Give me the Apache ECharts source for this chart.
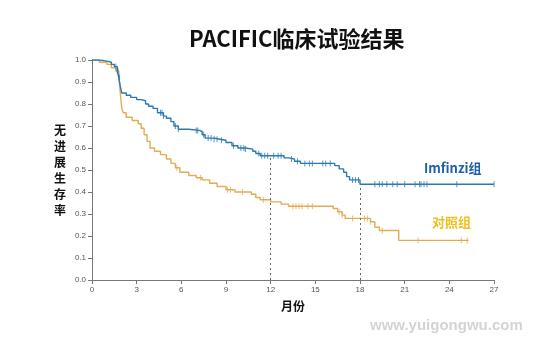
<!DOCTYPE html>
<html><head><meta charset="utf-8">
<script src="https://cdn.jsdelivr.net/npm/echarts@6/dist/echarts.min.js"></script>
<style>html,body{margin:0;padding:0;background:#fff}#c{width:555px;height:342px}</style>
</head><body><div id="c"></div>
<script>
// Kaplan-Meier step points: [month, survival]
var imfinziTimes = [0,0.5,1.0,1.3,1.5,1.7,1.8,1.9,2.0,2.3,2.6,3.0,3.3,3.6,3.8,4.1,4.4,4.8,5.0,5.3,5.5,5.8,6.5,7.2,7.4,7.6,8.2,8.6,9.0,9.4,9.8,10.3,10.8,11.0,11.3,12.9,13.2,13.6,14.0,16.3,16.6,16.9,17.1,17.3,18.0,27.0];
var imfinziSurv  = [1.0,0.995,0.99,0.98,0.97,0.95,0.92,0.88,0.85,0.84,0.83,0.82,0.815,0.80,0.79,0.78,0.76,0.745,0.735,0.72,0.70,0.685,0.68,0.675,0.66,0.645,0.64,0.635,0.625,0.61,0.60,0.595,0.585,0.575,0.565,0.555,0.55,0.54,0.53,0.52,0.505,0.49,0.47,0.455,0.435,0.435];
var controlTimes = [0,0.5,1.0,1.3,1.6,1.8,1.9,2.0,2.1,2.3,2.7,3.1,3.3,3.5,3.7,3.9,4.2,4.6,5.0,5.3,5.6,5.9,6.5,7.0,7.4,7.9,8.4,9.0,9.6,10.7,11.0,11.3,12.0,12.7,13.2,16.2,16.5,16.8,17.0,18.7,19.0,19.3,20.6,25.3];
var controlSurv  = [1.0,0.99,0.98,0.965,0.95,0.93,0.85,0.78,0.76,0.74,0.725,0.71,0.69,0.66,0.63,0.60,0.585,0.57,0.55,0.53,0.51,0.49,0.475,0.465,0.455,0.44,0.425,0.41,0.40,0.39,0.375,0.365,0.355,0.345,0.335,0.325,0.31,0.295,0.28,0.265,0.24,0.225,0.18,0.18];
// censoring times (months)
var imfinziCensor = [1.6,1.7,1.75,1.85,4.6,4.7,4.8,5.6,5.8,7.0,7.1,7.5,7.8,8.0,8.2,8.4,8.7,9.5,10.0,10.2,10.3,11.2,11.4,11.6,11.8,12.2,12.5,12.7,13.4,13.8,14.3,14.6,14.8,15.5,15.7,16.0,17.5,17.7,17.9,19.0,19.3,19.5,19.8,20.2,20.5,21.0,21.7,22.0,22.1,22.3,22.5,24.5,27.0];
var controlCensor = [5.7,7.3,9.1,9.3,10.1,11.5,13.5,13.7,13.9,14.1,14.5,14.8,16.6,16.8,17.5,18.3,18.5,18.7,19.5,21.9,24.8,25.2];
var xTicks = [0,3,6,9,12,15,18,21,24,27];
var landmarks = [12,18];
var seriesNames = ['Imfinzi组','对照组'];

function pairs(t,s){return t.map(function(v,i){return [v,s[i]];});}
function survAt(t,s,x){var v=s[0];for(var i=0;i<t.length;i++){if(t[i]<=x)v=s[i];}return v;}
function censorPts(ct,t,s){return ct.map(function(x){return [x,survAt(t,s,x)];});}

var blue='#2a7ab2', gold='#e3ac52';
var chart=echarts.init(document.getElementById('c'),null,{renderer:'canvas'});
chart.setOption({
  animation:false,
  backgroundColor:'#fff',
  title:{text:'PACIFIC临床试验结果',left:184,top:23,textStyle:{fontSize:22,fontWeight:'bold',color:'#111',fontFamily:'Noto Sans CJK SC'}},
  grid:{left:92,right:61,top:60,bottom:62},
  xAxis:{type:'value',min:0,max:27,interval:3,
    name:'月份',nameLocation:'middle',nameGap:20,
    nameTextStyle:{fontSize:12,fontWeight:'bold',color:'#111',fontFamily:'Noto Sans CJK SC'},
    axisLine:{lineStyle:{color:'#777'}},axisTick:{show:true,length:4,lineStyle:{color:'#777'}},
    axisLabel:{fontSize:8,color:'#555',margin:6},splitLine:{show:false}},
  yAxis:{type:'value',min:0,max:1,interval:0.1,
    name:'无\n进\n展\n生\n存\n率',nameLocation:'middle',nameGap:26,nameRotate:0,
    nameTextStyle:{fontSize:12,fontWeight:'bold',color:'#111',lineHeight:16,fontFamily:'Noto Sans CJK SC'},
    axisLine:{show:true,lineStyle:{color:'#777'}},axisTick:{show:true,length:4,lineStyle:{color:'#777'}},
    axisLabel:{fontSize:8,color:'#555',margin:6,formatter:function(v){return v.toFixed(1);}},splitLine:{show:false}},
  series:[
    {name:seriesNames[0],type:'line',step:'end',symbol:'none',data:pairs(imfinziTimes,imfinziSurv),
      lineStyle:{color:blue,width:1.4},z:3,
      markLine:{silent:true,symbol:'none',label:{show:false},lineStyle:{color:'#666',type:[2,3],width:1},
        data:landmarks.map(function(m){return [{coord:[m,0]},{coord:[m,survAt(imfinziTimes,imfinziSurv,m)]}];})}},
    {name:seriesNames[1],type:'line',step:'end',symbol:'none',data:pairs(controlTimes,controlSurv),
      lineStyle:{color:gold,width:1.4},z:2},
    {type:'scatter',data:censorPts(imfinziCensor,imfinziTimes,imfinziSurv),symbol:'rect',symbolSize:[1,6],
      itemStyle:{color:blue},z:4},
    {type:'scatter',data:censorPts(controlCensor,controlTimes,controlSurv),symbol:'rect',symbolSize:[1,6],
      itemStyle:{color:gold},z:4}
  ],
  graphic:[
    {type:'text',left:424,top:162,style:{text:seriesNames[0],fontSize:13,fontWeight:'bold',fill:'#2060a8',fontFamily:'Noto Sans CJK SC'}},
    {type:'text',left:432,top:216,style:{text:seriesNames[1],fontSize:13,fontWeight:'bold',fill:'#f0c020',fontFamily:'Noto Sans CJK SC'}},
    {type:'text',left:370,top:318,style:{text:'www.yuigongwu.com',fontSize:15,fontWeight:'bold',fill:'#d4d4d4',fontFamily:'Liberation Sans'}}
  ]
});
</script></body></html>
